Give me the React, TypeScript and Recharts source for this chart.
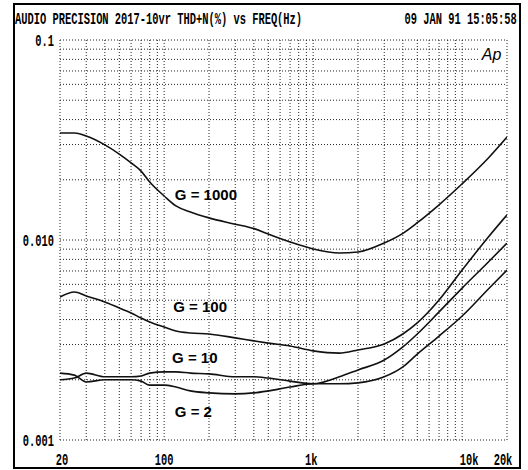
// THD+N vs frequency sweep, Audio Precision style plot, four gain settings
import React from "react";
import {
  LineChart,
  Line,
  XAxis,
  YAxis,
  CartesianGrid,
  ReferenceDot,
} from "recharts";

const FREQS = [
  20, 25, 30, 40, 50, 60, 70, 80, 100, 120, 150, 200, 300, 400, 500, 700,
  1000, 1500, 2000, 3000, 4000, 5000, 7000, 10000, 15000, 20000,
];

// THD+N (%) per gain
const G1000 = [
  0.0343, 0.0343, 0.0331, 0.0299, 0.0269, 0.0243, 0.0221, 0.0195, 0.0166,
  0.0148, 0.0138, 0.0129, 0.012, 0.0114, 0.0107, 0.00977, 0.00902, 0.00861,
  0.00871, 0.00966, 0.0108, 0.0122, 0.015, 0.0191, 0.0257, 0.0327,
];
const G100 = [
  0.00519, 0.0055, 0.00525, 0.0049, 0.00457, 0.00432, 0.00407, 0.00389,
  0.00367, 0.00351, 0.00343, 0.00339, 0.00324, 0.00313, 0.00305, 0.00295,
  0.00279, 0.00272, 0.00282, 0.00302, 0.00339, 0.00385, 0.00501, 0.00708,
  0.01035, 0.01334,
];
const G10 = [
  0.002, 0.00204, 0.00216, 0.00207, 0.00207, 0.00207, 0.00209, 0.00216,
  0.00219, 0.00219, 0.00216, 0.00214, 0.00207, 0.00207, 0.00204, 0.00197,
  0.00191, 0.00207, 0.00224, 0.00251, 0.00292, 0.00339, 0.00437, 0.00575,
  0.00776, 0.00966,
];
const G2 = [
  0.00216, 0.00211, 0.00195, 0.002, 0.002, 0.002, 0.00197, 0.00188, 0.00188,
  0.00184, 0.00176, 0.00172, 0.0017, 0.00172, 0.00176, 0.00184, 0.00191,
  0.00191, 0.00193, 0.00207, 0.00232, 0.00269, 0.00331, 0.00417, 0.00569,
  0.00708,
];

// Curve labels, anchored in data coordinates
const CURVE_LABELS = ["G = 1000", "G = 100", "G = 10", "G = 2"];
const CURVE_LABEL_F = [118, 115, 113, 118];
const CURVE_LABEL_V = [0.0168, 0.00462, 0.00257, 0.00138];

// Log grid: every decade multiple gets a line, only a few get text
const X_TICKS = [
  20, 30, 40, 50, 60, 70, 80, 90, 100, 200, 300, 400, 500, 600, 700, 800, 900,
  1000, 2000, 3000, 4000, 5000, 6000, 7000, 8000, 9000, 10000, 20000,
];
const X_LABEL_VALUES = [20, 100, 1000, 10000, 20000];
const X_LABEL_TEXT = ["20", "100", "1k", "10k", "20k"];

const Y_TICKS = [
  0.001, 0.002, 0.003, 0.004, 0.005, 0.006, 0.007, 0.008, 0.009, 0.01, 0.02,
  0.03, 0.04, 0.05, 0.06, 0.07, 0.08, 0.09, 0.1,
];
const Y_LABEL_VALUES = [0.001, 0.01, 0.1];
const Y_LABEL_TEXT = ["0.001", "0.010", "0.1"];

const TITLE = "AUDIO PRECISION 2017-10vr THD+N(%) vs FREQ(Hz)";
const STAMP = "09 JAN 91 15:05:58";

const MONO = "'Liberation Mono', 'DejaVu Sans Mono', monospace";
const SANS = "'Liberation Sans', Arial, sans-serif";
const MONO_SIZE = 16;
const SQUEEZE = 0.65;

// the plotter put a couple of labels slightly off their grid lines
const X_NUDGE: Record<string, number> = { "20": 2, "1k": -2, "10k": 7, "20k": -4 };

const chartData = FREQS.map((f, i) => ({
  f,
  g1000: G1000[i],
  g100: G100[i],
  g10: G10[i],
  g2: G2[i],
}));

function XTick(props: any) {
  const { x, y, payload } = props;
  const i = X_LABEL_VALUES.indexOf(payload.value);
  if (i < 0) return <g />;
  const txt = X_LABEL_TEXT[i];
  return (
    <g transform={`translate(${x + (X_NUDGE[txt] ?? 0)},${y}) scale(${SQUEEZE},1)`}>
      <text x={0} y={25} textAnchor="middle" fontFamily={MONO} fontWeight="bold" fontSize={MONO_SIZE} fill="#000">
        {txt}
      </text>
    </g>
  );
}

function YTick(props: any) {
  const { x, y, payload } = props;
  const i = Y_LABEL_VALUES.indexOf(payload.value);
  if (i < 0) return <g />;
  return (
    <g transform={`translate(${x - 6},${y}) scale(${SQUEEZE},1)`}>
      <text x={0} y={5.5} textAnchor="end" fontFamily={MONO} fontWeight="bold" fontSize={MONO_SIZE} fill="#000">
        {Y_LABEL_TEXT[i]}
      </text>
    </g>
  );
}

const headerStyle: React.CSSProperties = {
  position: "absolute",
  top: 12,
  fontFamily: MONO,
  fontWeight: "bold",
  fontSize: MONO_SIZE,
  lineHeight: `${MONO_SIZE}px`,
  whiteSpace: "nowrap",
  color: "#000",
};

export default function App() {
  return (
    <div style={{ position: "absolute", left: 0, top: 0, width: 528, height: 470, background: "#fff", overflow: "hidden" }}>
      <div
        style={{
          position: "absolute",
          left: 13,
          top: 3,
          width: 508,
          height: 466,
          border: "2px solid #000",
          boxSizing: "border-box",
        }}
      />
      <div style={{ ...headerStyle, left: 15, transform: `scaleX(${SQUEEZE})`, transformOrigin: "left" }}>
        {TITLE}
      </div>
      <div style={{ ...headerStyle, right: 11, transform: `scaleX(${SQUEEZE})`, transformOrigin: "right" }}>
        {STAMP}
      </div>

      <div style={{ position: "absolute", left: 0, top: 0 }}>
        <LineChart width={528} height={470} data={chartData} margin={{ top: 40, right: 21, bottom: 5, left: 10 }}>
          <CartesianGrid stroke="#222" strokeDasharray="1 2" strokeWidth={1} />
          <XAxis
            dataKey="f"
            type="number"
            scale="log"
            domain={[20, 20000]}
            ticks={X_TICKS}
            interval={0}
            allowDataOverflow
            axisLine={false}
            tickLine={false}
            tickSize={0}
            tickMargin={0}
            height={25}
            tick={<XTick />}
          />
          <YAxis
            type="number"
            scale="log"
            domain={[0.001, 0.1]}
            ticks={Y_TICKS}
            interval={0}
            allowDataOverflow
            axisLine={false}
            tickLine={false}
            tickSize={0}
            tickMargin={0}
            width={50}
            tick={<YTick />}
          />
          {["g1000", "g100", "g10", "g2"].map((k) => (
            <Line
              key={k}
              type="monotone"
              dataKey={k}
              stroke="#111"
              strokeWidth={1.6}
              dot={false}
              activeDot={false}
              isAnimationActive={false}
            />
          ))}
          {CURVE_LABELS.map((t, i) => (
            <ReferenceDot
              key={t}
              x={CURVE_LABEL_F[i]}
              y={CURVE_LABEL_V[i]}
              r={1}
              shape={(p: any) => (
                <text x={p.cx} y={p.cy} dy="0.36em" fontFamily={SANS} fontWeight="bold" fontSize={15} fill="#000">
                  {t}
                </text>
              )}
            />
          ))}
        </LineChart>
      </div>

      <div
        style={{
          position: "absolute",
          left: 478,
          top: 44,
          width: 27,
          height: 21,
          background: "#fff",
          fontFamily: SANS,
          fontStyle: "italic",
          fontSize: 16,
          lineHeight: "21px",
          textAlign: "center",
          color: "#000",
        }}
      >
        Ap
      </div>
    </div>
  );
}
